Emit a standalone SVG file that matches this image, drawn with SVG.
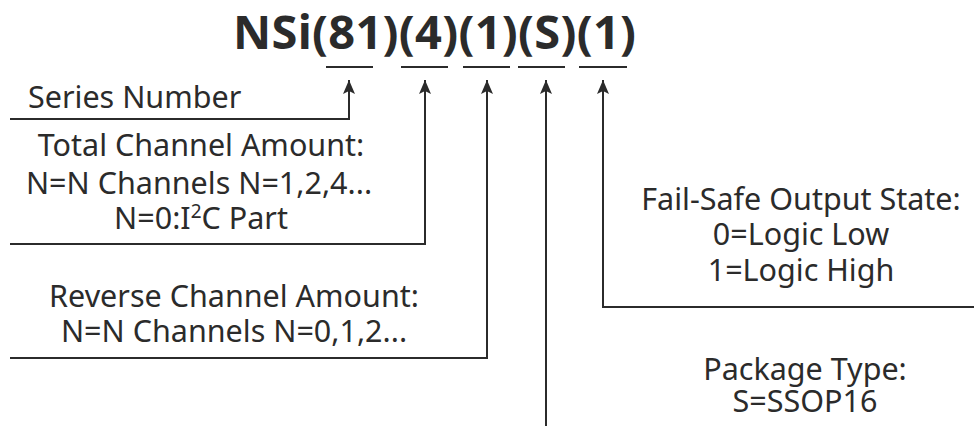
<svg xmlns="http://www.w3.org/2000/svg" width="974" height="426" viewBox="0 0 974 426">
<defs>
<marker id="ah" viewBox="0 0 14 12" refX="14" refY="6" markerWidth="14" markerHeight="12" markerUnits="userSpaceOnUse" orient="auto">
<path d="M0,0 L14,6 L0,12 L3,6 Z" fill="#2b2b2b"/>
</marker>
</defs>
<style>
text{font-family:"Noto Sans","Liberation Sans",sans-serif;fill:#2b2b2b;}
.t{font-size:30.5px;text-anchor:middle;}
.title{font-size:47px;font-weight:bold;}
.ln{stroke:#2b2b2b;stroke-width:2;fill:none;}
.ul{stroke:#2b2b2b;stroke-width:2;}
</style>
<g id="title">
<text class="title" x="233" y="49" textLength="403" lengthAdjust="spacing">NSi(81)(4)(1)(S)(1)</text>
<line class="ul" x1="326" y1="67" x2="373" y2="67"/>
<line class="ul" x1="401" y1="67" x2="448" y2="67"/>
<line class="ul" x1="463" y1="67" x2="510" y2="67"/>
<line class="ul" x1="518" y1="67" x2="565" y2="67"/>
<line class="ul" x1="579" y1="67" x2="627" y2="67"/>
</g>
<g id="series"><text x="28" y="108" style="font-size:30.5px">Series Number</text></g>
<g id="total">
<text class="t" x="201" y="156">Total Channel Amount:</text>
<text class="t" x="199" y="194">N=N Channels N=1,2,4...</text>
<text class="t" x="201" y="229">N=0:I<tspan dy="-11" style="font-size:19px">2</tspan><tspan dy="11">C Part</tspan></text>
</g>
<g id="reverse">
<text class="t" x="234" y="307">Reverse Channel Amount:</text>
<text class="t" x="234" y="342">N=N Channels N=0,1,2...</text>
</g>
<g id="failsafe">
<text class="t" x="801" y="210">Fail-Safe Output State:</text>
<text class="t" x="801" y="245">0=Logic Low</text>
<text class="t" x="801" y="281">1=Logic High</text>
</g>
<g id="package">
<text class="t" x="805" y="380">Package Type:</text>
<text class="t" x="805" y="412">S=SSOP16</text>
</g>
<g id="connectors">
<polyline class="ln" points="10,119 349,119 349,80" marker-end="url(#ah)"/>
<polyline class="ln" points="10,244 425,244 425,80" marker-end="url(#ah)"/>
<polyline class="ln" points="10,358 487,358 487,80" marker-end="url(#ah)"/>
<polyline class="ln" points="546,426 546,80" marker-end="url(#ah)"/>
<polyline class="ln" points="974,307 603,307 603,80" marker-end="url(#ah)"/>
</g>
</svg>
